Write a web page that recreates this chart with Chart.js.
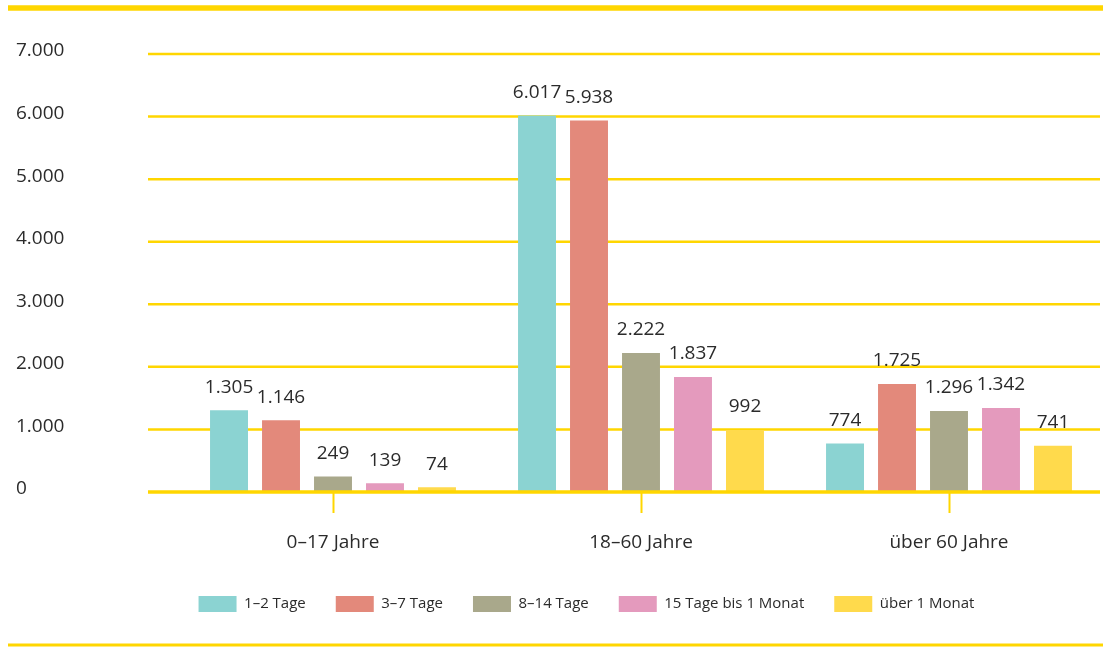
<!DOCTYPE html>
<html>
<head>
<meta charset="utf-8">
<script src="https://cdn.jsdelivr.net/npm/chart.js@4"></script>
<style>
  html, body { margin: 0; padding: 0; background: #fff; }
  #wrap { width: 1103px; height: 647px; position: relative; }
</style>
</head>
<body>
<div id="wrap"><canvas id="myChart"></canvas></div>
<script>
// age groups on the x axis
const groups = ["0–17 Jahre", "18–60 Jahre", "über 60 Jahre"];

// one array per duration
const seriesNames = ["1–2 Tage", "3–7 Tage", "8–14 Tage", "15 Tage bis 1 Monat", "über 1 Monat"];
const tage1bis2 = [1305, 6017, 774];
const tage3bis7 = [1146, 5938, 1725];
const tage8bis14 = [249, 2222, 1296];
const tage15bisMonat = [139, 1837, 1342];
const ueberMonat = [74, 992, 741];

const yTicks = [0, 1000, 2000, 3000, 4000, 5000, 6000, 7000];

const colors = ["#8BD3D2", "#E3897B", "#A9A88B", "#E49ABD", "#FFDA4C"];
const lineYellow = "#FFD600";
const textColor = "#2b2b2b";
const fontFamily = "'Open Sans', sans-serif";

const fmt = (v) => String(v).replace(/\B(?=(\d{3})+(?!\d))/g, ".");

const allSeries = [tage1bis2, tage3bis7, tage8bis14, tage15bisMonat, ueberMonat];

// horizontal lines, bar labels, frame lines
const linesPlugin = {
  id: "lines",
  afterLayout(chart) {
    // legend sits a bit right of the page centre
    chart.legend.left += 54;
  },
  beforeDatasetsDraw(chart) {
    const ctx = chart.ctx;
    const y = chart.scales.y;
    ctx.save();
    ctx.strokeStyle = lineYellow;
    ctx.lineWidth = 2.5;
    yTicks.forEach((t) => {
      if (t === 0) return;
      const py = y.getPixelForValue(t);
      ctx.beginPath();
      ctx.moveTo(148, py);
      ctx.lineTo(1100, py);
      ctx.stroke();
    });
    // top and bottom frame lines
    ctx.lineWidth = 5.5;
    ctx.beginPath();
    ctx.moveTo(8, 8);
    ctx.lineTo(1103, 8);
    ctx.stroke();
    ctx.lineWidth = 3;
    ctx.beginPath();
    ctx.moveTo(8, 645);
    ctx.lineTo(1103, 645);
    ctx.stroke();
    ctx.restore();
  },
  afterDatasetsDraw(chart) {
    const ctx = chart.ctx;
    const y = chart.scales.y;
    ctx.save();
    // baseline on top of the bars
    const py = y.getPixelForValue(0);
    ctx.strokeStyle = lineYellow;
    ctx.lineWidth = 3.5;
    ctx.beginPath();
    ctx.moveTo(148, py);
    ctx.lineTo(1100, py);
    ctx.stroke();

    ctx.fillStyle = textColor;
    ctx.font = "19px " + fontFamily;
    ctx.textAlign = "center";
    ctx.textBaseline = "middle";
    chart.data.datasets.forEach((ds, i) => {
      const meta = chart.getDatasetMeta(i);
      meta.data.forEach((bar, j) => {
        ctx.fillText(fmt(ds.data[j]), bar.x, bar.y - 23);
      });
    });
    ctx.restore();
  }
};

let ctx = document.getElementById("myChart").getContext("2d");
let chart = new Chart(ctx, {
  type: "bar",
  data: {
    labels: groups,
    datasets: seriesNames.map((name, i) => ({
      label: name,
      data: allSeries[i],
      backgroundColor: colors[i],
      borderWidth: 0,
      barPercentage: 0.73,
      categoryPercentage: 0.844,
    })),
  },
  options: {
    responsive: true,
    maintainAspectRatio: false,
    animation: false,
    layout: { padding: { left: 16, top: 54, right: 0, bottom: 25 } },
    plugins: {
      legend: {
        position: "bottom",
        labels: {
          boxWidth: 38,
          boxHeight: 16,
          padding: 30,
          color: textColor,
          font: { family: fontFamily, size: 15 },
        },
      },
      tooltip: { enabled: false },
    },
    scales: {
      x: {
        grid: {
          display: true,
          drawOnChartArea: false,
          offset: false,
          tickLength: 21,
          tickColor: lineYellow,
          tickWidth: 2,
        },
        border: { display: false },
        ticks: {
          padding: 18,
          color: textColor,
          font: { family: fontFamily, size: 19 },
        },
        afterFit: (s) => { s.height = 74; },
      },
      y: {
        min: 0,
        max: 7000,
        grid: { display: false },
        border: { display: false },
        ticks: {
          stepSize: 1000,
          crossAlign: "far",
          labelOffset: -3,
          color: textColor,
          font: { family: fontFamily, size: 19 },
          callback: (v) => fmt(v),
        },
        afterFit: (s) => { s.width = 163; },
      },
    },
  },
  plugins: [linesPlugin],
});
</script>
</body>
</html>
